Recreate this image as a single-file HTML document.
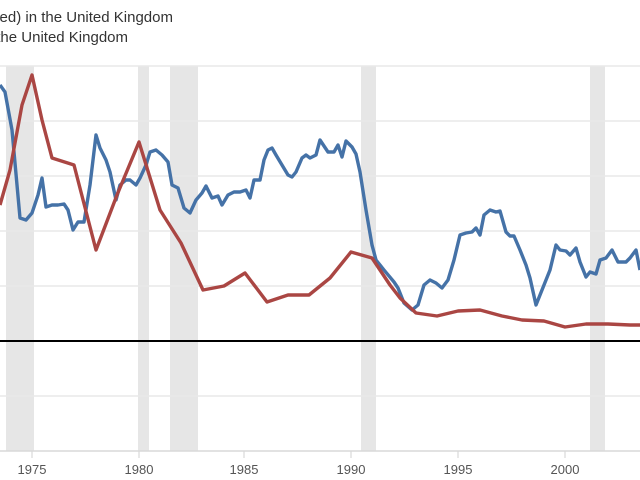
<!DOCTYPE html>
<html><head><meta charset="utf-8"><style>
html,body{margin:0;padding:0;background:#fff;width:640px;height:480px;overflow:hidden}
</style></head><body>
<svg width="640" height="480" xmlns="http://www.w3.org/2000/svg" font-family="'Liberation Sans',sans-serif">
<g fill="#e6e6e6">
<rect x="6" y="66" width="28" height="385"/>
<rect x="138" y="66" width="11" height="385"/>
<rect x="170" y="66" width="28" height="385"/>
<rect x="361" y="66" width="15" height="385"/>
<rect x="590" y="66" width="15" height="385"/>
</g>
<g stroke="#e8e8e8" stroke-width="1.5">
<line x1="0" y1="66" x2="640" y2="66"/>
<line x1="0" y1="121" x2="640" y2="121"/>
<line x1="0" y1="176" x2="640" y2="176"/>
<line x1="0" y1="231" x2="640" y2="231"/>
<line x1="0" y1="286" x2="640" y2="286"/>
<line x1="0" y1="396" x2="640" y2="396"/>
</g>
<line x1="0" y1="451" x2="640" y2="451" stroke="#d8d8d8" stroke-width="1.5"/>
<g stroke="#d8d8d8" stroke-width="1.2">
<line x1="32" y1="451" x2="32" y2="458"/><line x1="139" y1="451" x2="139" y2="458"/>
<line x1="244" y1="451" x2="244" y2="458"/><line x1="351" y1="451" x2="351" y2="458"/>
<line x1="458" y1="451" x2="458" y2="458"/><line x1="565" y1="451" x2="565" y2="458"/>
</g>
<line x1="0" y1="341" x2="640" y2="341" stroke="#000" stroke-width="2"/>
<g font-size="13" fill="#555" text-anchor="middle">
<text x="32" y="474">1975</text><text x="139" y="474">1980</text><text x="244" y="474">1985</text>
<text x="351" y="474">1990</text><text x="458" y="474">1995</text><text x="565" y="474">2000</text>
</g>
<g font-size="15" fill="#333" text-anchor="end">
<text x="173" y="22">Adjusted) in the United Kingdom</text>
<text x="128" y="42">in the United Kingdom</text>
</g>
<polyline fill="none" stroke="#4572a7" stroke-width="3.4" stroke-linejoin="round" points="0,85 5,92 12,130 20,218 26,220 32,213 38,195 42,178 46,207 52,205 58,205 64,204 68,210 73,230 78,222 84,222 90,185 96,135 100,148 106,160 110,172 116,200 120,185 126,180 130,180 136,185 140,178 146,165 150,152 156,150 162,155 168,162 172,185 178,188 184,208 190,213 196,200 202,193 206,186 212,198 218,196 222,205 228,195 234,192 240,192 246,190 250,198 254,180 260,180 264,160 268,150 272,148 276,155 282,165 288,175 292,177 296,172 302,158 306,155 310,158 316,155 320,140 328,152 334,152 338,145 342,157 346,141 352,147 356,154 360,172 366,210 372,245 376,260 384,270 394,282 398,288 404,303 412,310 418,305 424,285 430,280 436,283 442,288 448,280 454,260 460,235 466,233 472,232 476,228 480,235 484,215 490,210 496,212 500,211 506,232 510,236 514,236 520,250 526,265 530,278 536,305 542,290 550,270 556,245 560,250 566,251 570,255 576,248 580,262 586,277 590,272 596,274 600,260 606,258 612,250 618,262 622,262 626,262 630,258 636,250 640,270"/>
<polyline fill="none" stroke="#aa4643" stroke-width="3.4" stroke-linejoin="round" points="0,205 10,170 22,105 32,75 42,120 52,158 74,165 96,250 117,195 139,142 160,210 181,243 203,290 224,286 245,273 267,302 288,295 309,295 330,278 351,252 372,258 390,285 400,298 416,313 437,316 458,311 480,310 502,316 522,320 544,321 565,327 586,324 608,324 630,325 640,325"/>
</svg>
</body></html>
